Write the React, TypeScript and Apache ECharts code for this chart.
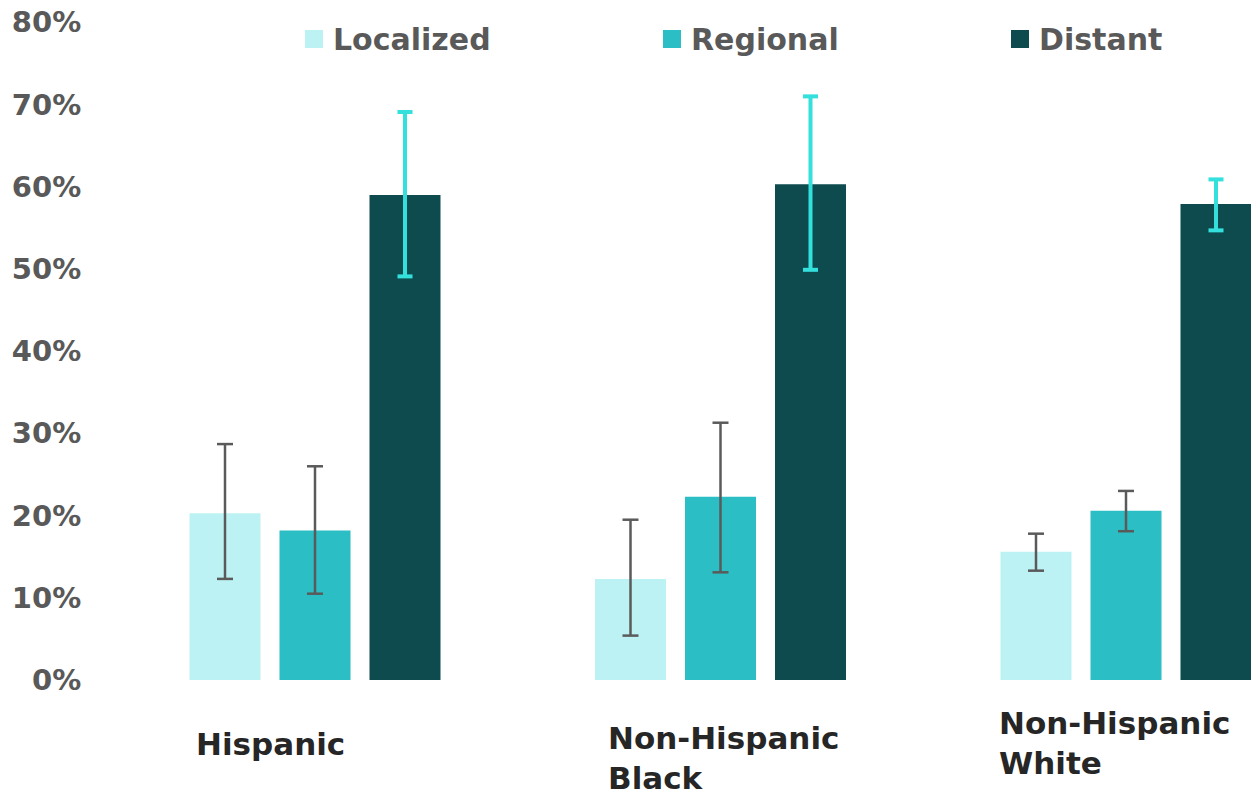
import React, { useEffect, useRef } from "react";
import * as echarts from "echarts";

const categories = ["Hispanic", "Non-Hispanic\nBlack", "Non-Hispanic\nWhite"];
const seriesNames = ["Localized", "Regional", "Distant"];
const colors = ["#bcf2f3", "#2bbec4", "#0d4b4e"];
const errorColors = ["#5a5a5a", "#5a5a5a", "#33e0dc"];

const localized = [20.3, 12.3, 15.6];
const regional = [18.2, 22.3, 20.6];
const distant = [59.0, 60.3, 57.9];

const localizedLow = [12.3, 5.4, 13.3];
const localizedHigh = [28.7, 19.5, 17.8];
const regionalLow = [10.5, 13.1, 18.1];
const regionalHigh = [26.0, 31.3, 23.0];
const distantLow = [49.1, 49.9, 54.7];
const distantHigh = [69.1, 71.0, 60.9];

const yTicks = [0, 10, 20, 30, 40, 50, 60, 70, 80];

const FONT = "DejaVu Sans";

export default function App() {
  const ref = useRef<HTMLDivElement>(null);
  useEffect(() => {
    if (!ref.current) return;
    const chart = echarts.init(ref.current, null, { renderer: "svg" });
    const values = [localized, regional, distant];
    const lows = [localizedLow, regionalLow, distantLow];
    const highs = [localizedHigh, regionalHigh, distantHigh];
    const barWidth = 71;
    const barGapPx = 19;
    const offsets = [-(barWidth + barGapPx), 0, barWidth + barGapPx];
    const errStyles = [
      { lw: 2.5, cap: 16 },
      { lw: 2.5, cap: 16 },
      { lw: 4, cap: 15 },
    ];

    const barSeries = seriesNames.map((name, i) => ({
      name,
      type: "bar",
      data: values[i],
      barWidth,
      barGap: (barGapPx / barWidth) * 100 + "%",
      itemStyle: { color: colors[i] },
      silent: true,
    }));

    const errSeries = seriesNames.map((name, i) => ({
      name: name + " error",
      type: "custom",
      data: categories.map((_, c) => [c, lows[i][c], highs[i][c]]),
      z: 10,
      silent: true,
      renderItem: (params: any, api: any) => {
        const idx = api.value(0);
        const lo = api.coord([idx, api.value(1)]);
        const hi = api.coord([idx, api.value(2)]);
        const x = lo[0] + offsets[i];
        const half = errStyles[i].cap / 2;
        const style = { stroke: errorColors[i], lineWidth: errStyles[i].lw };
        return {
          type: "group",
          children: [
            { type: "line", shape: { x1: x, y1: lo[1], x2: x, y2: hi[1] }, style },
            { type: "line", shape: { x1: x - half, y1: hi[1], x2: x + half, y2: hi[1] }, style },
            { type: "line", shape: { x1: x - half, y1: lo[1], x2: x + half, y2: lo[1] }, style },
          ],
        };
      },
    }));

    const legendLefts = [305, 663, 1011];
    const legends = seriesNames.map((name, i) => ({
      data: [name],
      left: legendLefts[i],
      top: 24,
      padding: 0,
      itemWidth: 18,
      itemHeight: 18,
      icon: "rect",
      selectedMode: false,
      textStyle: {
        fontFamily: FONT,
        fontWeight: "bold",
        fontSize: 30,
        color: "#595959",
        padding: [0, 0, 0, 5],
      },
    }));

    const gridLeft = 112.25;
    const gridTop = 22.4;
    const gridBottomY = 680;

    chart.setOption({
      animation: false,
      legend: legends,
      grid: {
        left: gridLeft,
        top: gridTop,
        width: 1216.5,
        height: gridBottomY - gridTop,
        containLabel: false,
      },
      xAxis: {
        type: "category",
        data: categories,
        axisLine: { show: false },
        axisTick: { show: false },
        axisLabel: { show: false },
        splitLine: { show: false },
      },
      yAxis: {
        type: "value",
        min: yTicks[0],
        max: yTicks[yTicks.length - 1],
        interval: 10,
        axisLine: { show: false },
        axisTick: { show: false },
        splitLine: { show: false },
        axisLabel: {
          formatter: "{value}%",
          fontFamily: FONT,
          fontWeight: "bold",
          fontSize: 29,
          color: "#595959",
          margin: 31,
        },
      },
      series: [...barSeries, ...errSeries],
    });

    // category labels placed under each group, left-aligned
    const labelDx = [-119, -112.5, -127];
    const labelDy = [744, 758, 743];
    const graphics = categories.map((cat, c) => {
      const cx = chart.convertToPixel({ xAxisIndex: 0 }, c) as number;
      return {
        type: "text",
        left: cx + labelDx[c],
        top: labelDy[c] - (cat.includes("\n") ? 40 : 20),
        style: {
          text: cat,
          font: `bold 31px "${FONT}"`,
          fill: "#262626",
          lineHeight: 40,
        },
      };
    });
    chart.setOption({ graphic: graphics });

    return () => chart.dispose();
  }, []);
  return (
    <div
      style={{
        position: "fixed",
        left: 0,
        top: 0,
        width: 1251,
        height: 795,
        overflow: "hidden",
        background: "#fff",
      }}
    >
      <div ref={ref} style={{ width: 1400, height: 795 }} />
    </div>
  );
}
